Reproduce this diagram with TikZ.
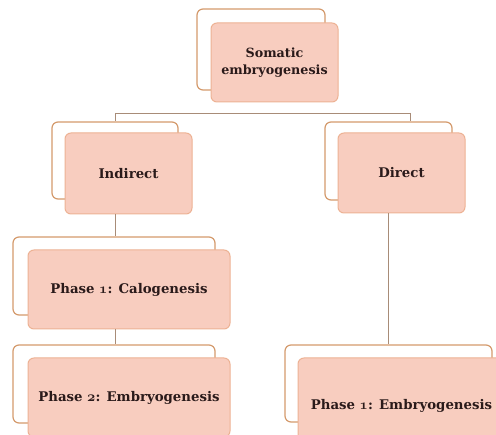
\documentclass[tikz,border=0pt]{standalone}
\usepackage{fontspec}
\setmainfont{DejaVu Serif}
\usetikzlibrary{calc}
\definecolor{pinkfill}{HTML}{F8CDBF}
\definecolor{frontedge}{HTML}{EDB294}
\definecolor{backedge}{HTML}{D49A6C}
\definecolor{linecol}{HTML}{A88C78}
\definecolor{txt}{HTML}{2A1A1A}
\newcommand{\osn}[1]{{\fontencoding{OML}\fontfamily{cmm}\fontseries{b}\fontshape{it}\selectfont #1}}
\tikzset{
  backbox/.style={draw=backedge, line width=1.2pt, fill=white, rounded corners=6pt, inner sep=0pt},
  frontbox/.style={draw=frontedge, line width=1pt, fill=pinkfill, rounded corners=6pt, inner sep=0pt,
     font=\bfseries\fontsize{13.3}{17}\selectfont, text=txt, align=center},
  conn/.style={draw=linecol, line width=0.8pt}
}
\begin{document}
\begin{tikzpicture}[x=1pt,y=-1pt]
\useasboundingbox (0,0) rectangle (496,435);
\begin{scope}
\clip (0,0) rectangle (496,435);
% back boxes
\node[backbox, minimum width=128pt, minimum height=81pt] (topb) at (261,49.5) {};
\node[backbox, minimum width=126pt, minimum height=77pt] (indb) at (115,160.5) {};
\node[backbox, minimum width=127pt, minimum height=78pt] (dirb) at (388.5,161) {};
\node[backbox, minimum width=202pt, minimum height=78pt] (calb) at (114,276) {};
\node[backbox, minimum width=202pt, minimum height=78pt] (p2b) at (114,384) {};
\node[backbox, minimum width=207pt, minimum height=77pt] (p1b) at (388.5,383.5) {};
% front boxes
\node[frontbox, minimum width=127pt, minimum height=79pt, font=\bfseries\fontsize{12.7}{17}\selectfont] (topf) at (274.5,62.5) {Somatic\\embryogenesis};
\node[frontbox, minimum width=127pt, minimum height=81pt] (indf) at (128.5,173.5) {Indirect};
\node[frontbox, minimum width=127pt, minimum height=80pt] (dirf) at (401.5,173) {Direct};
\node[frontbox, minimum width=202pt, minimum height=79pt] (calf) at (129,289.5) {Phase \osn{1}: Calogenesis};
\node[frontbox, minimum width=202pt, minimum height=79pt] (p2f) at (129,397.5) {Phase \osn{2}: Embryogenesis};
\node[frontbox, minimum width=207pt, minimum height=95pt] (p1f) at (401.5,405.5) {Phase \osn{1}: Embryogenesis};
\end{scope}
% connectors
\coordinate (jl) at (115,113);
\coordinate (jr) at (410,113);
\draw[conn] ($(topf.south)+(-14.5,0)$) -- ($(topf.south)+(-14.5,0)$ |- jl);
\draw[conn] ($(topf.south)+(13.5,0)$) -- ($(topf.south)+(13.5,0)$ |- jl);
\draw[conn] (jl) -- (jr);
\draw[conn] (jl) -- (indb.north -| jl);
\draw[conn] (jr) -- (jr |- dirb.north);
\draw[conn] (indf.south -| jl) -- (calb.north -| jl);
\draw[conn] (calf.south -| jl) -- (p2b.north -| jl);
\coordinate (dr) at (388,213);
\draw[conn] (dirf.south -| dr) -- (p1b.north -| dr);
\end{tikzpicture}
\end{document}
